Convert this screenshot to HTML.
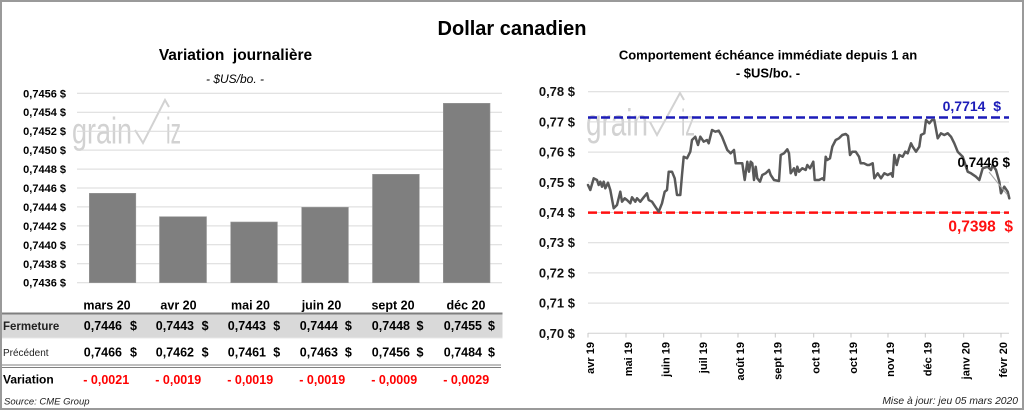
<!DOCTYPE html>
<html><head><meta charset="utf-8"><style>
html,body{margin:0;padding:0;background:#fff;}
svg{display:block;}
text{font-family:"Liberation Sans",sans-serif;}
.b{font-weight:bold;}
</style></head><body>
<svg width="1024" height="410" viewBox="0 0 1024 410" xmlns="http://www.w3.org/2000/svg">
<rect x="0" y="0" width="1024" height="410" fill="#fff"/>
<rect x="1" y="1" width="1022" height="408" fill="none" stroke="#9a9a9a" stroke-width="2"/>

<!-- Main title -->
<text x="512" y="35" font-size="20" class="b" text-anchor="middle" fill="#000">Dollar canadien</text>

<!-- LEFT CHART -->
<text x="235.5" y="60" font-size="15.5" class="b" text-anchor="middle" fill="#000">Variation&#160; journalière</text>
<text x="235" y="83" font-size="12" font-style="italic" text-anchor="middle" fill="#000">- $US/bo. -</text>

<!-- watermark left -->
<g fill="#d2d2d2" stroke="none">
<text x="72" y="143.5" font-size="37" textLength="60" lengthAdjust="spacingAndGlyphs">grain</text>
<text x="166" y="143.5" font-size="37" textLength="15" lengthAdjust="spacingAndGlyphs">iz</text>
</g>
<polyline points="135,130 143,143 165,100 169,107" fill="none" stroke="#d2d2d2" stroke-width="2"/>

<g stroke="#d9d9d9" stroke-width="1">
<line x1="77" y1="93.3" x2="502" y2="93.3"/>
<line x1="77" y1="112.2" x2="502" y2="112.2"/>
<line x1="77" y1="131.2" x2="502" y2="131.2"/>
<line x1="77" y1="150.1" x2="502" y2="150.1"/>
<line x1="77" y1="169.1" x2="502" y2="169.1"/>
<line x1="77" y1="188" x2="502" y2="188"/>
<line x1="77" y1="206.9" x2="502" y2="206.9"/>
<line x1="77" y1="225.9" x2="502" y2="225.9"/>
<line x1="77" y1="244.8" x2="502" y2="244.8"/>
<line x1="77" y1="263.8" x2="502" y2="263.8"/>
<line x1="77" y1="282.7" x2="502" y2="282.7"/>
</g>
<g font-size="11" class="b" text-anchor="end" fill="#000">
<text x="66" y="97.3">0,7456 $</text>
<text x="66" y="116.2">0,7454 $</text>
<text x="66" y="135.2">0,7452 $</text>
<text x="66" y="154.1">0,7450 $</text>
<text x="66" y="173.1">0,7448 $</text>
<text x="66" y="192">0,7446 $</text>
<text x="66" y="210.9">0,7444 $</text>
<text x="66" y="229.9">0,7442 $</text>
<text x="66" y="248.8">0,7440 $</text>
<text x="66" y="267.8">0,7438 $</text>
<text x="66" y="286.7">0,7436 $</text>
</g>
<g fill="#7f7f7f" stroke="#9a9a9a" stroke-width="0.6">
<rect x="89.3" y="193.3" width="46.5" height="89.4"/>
<rect x="159.5" y="216.7" width="47" height="66"/>
<rect x="230.7" y="222" width="46.7" height="60.7"/>
<rect x="301.7" y="207.3" width="46.7" height="75.4"/>
<rect x="372.5" y="174.3" width="46.8" height="108.4"/>
<rect x="443.3" y="103.3" width="46.7" height="179.4"/>
</g>

<!-- Table -->
<g font-size="12.5" class="b" text-anchor="middle" fill="#000">
<text x="107" y="309.5">mars 20</text>
<text x="178.5" y="309.5">avr 20</text>
<text x="250.5" y="309.5">mai 20</text>
<text x="321.5" y="309.5">juin 20</text>
<text x="393" y="309.5">sept 20</text>
<text x="466" y="309.5">déc 20</text>
</g>
<rect x="2" y="313" width="500.5" height="25" fill="#d9d9d9"/>
<line x1="2" y1="313.5" x2="502.5" y2="313.5" stroke="#7f7f7f" stroke-width="2"/>
<line x1="2" y1="338" x2="502.5" y2="338" stroke="#e8e8e8" stroke-width="1"/>
<text x="3" y="330" font-size="11.5" class="b" fill="#222">Fermeture</text>
<text x="3" y="356" font-size="10" fill="#222">Précédent</text>
<text x="3" y="383.5" font-size="12" class="b" fill="#000">Variation</text>
<g font-size="12.5" class="b" fill="#000" text-anchor="end">
<text x="122" y="330">0,7446</text><text x="137" y="330">$</text>
<text x="194" y="330">0,7443</text><text x="208.6" y="330">$</text>
<text x="266" y="330">0,7443</text><text x="280.2" y="330">$</text>
<text x="338" y="330">0,7444</text><text x="351.8" y="330">$</text>
<text x="410" y="330">0,7448</text><text x="423.4" y="330">$</text>
<text x="482" y="330">0,7455</text><text x="495" y="330">$</text>
<text x="122" y="356.5">0,7466</text><text x="137" y="356.5">$</text>
<text x="194" y="356.5">0,7462</text><text x="208.6" y="356.5">$</text>
<text x="266" y="356.5">0,7461</text><text x="280.2" y="356.5">$</text>
<text x="338" y="356.5">0,7463</text><text x="351.8" y="356.5">$</text>
<text x="410" y="356.5">0,7456</text><text x="423.4" y="356.5">$</text>
<text x="482" y="356.5">0,7484</text><text x="495" y="356.5">$</text>
</g>
<line x1="2" y1="365" x2="501" y2="365" stroke="#7f7f7f" stroke-width="1"/>
<line x1="2" y1="367.5" x2="501" y2="367.5" stroke="#7f7f7f" stroke-width="1"/>
<g font-size="12.5" class="b" fill="#ff0000">
<text x="83.3" y="384">- 0,0021</text>
<text x="155.3" y="384">- 0,0019</text>
<text x="227.3" y="384">- 0,0019</text>
<text x="299.3" y="384">- 0,0019</text>
<text x="371.3" y="384">- 0,0009</text>
<text x="443.3" y="384">- 0,0029</text>
</g>
<text x="4" y="404.5" font-size="9.5" font-style="italic" fill="#222">Source: CME Group</text>

<!-- RIGHT CHART -->
<text x="768" y="59.5" font-size="13" class="b" text-anchor="middle" fill="#000">Comportement échéance immédiate depuis 1 an</text>
<text x="768" y="77.5" font-size="13" class="b" text-anchor="middle" fill="#000">- $US/bo. -</text>

<!-- watermark right -->
<g fill="#d2d2d2">
<text x="586" y="135.5" font-size="38" textLength="62" lengthAdjust="spacingAndGlyphs">grain</text>
<text x="681" y="135.5" font-size="37" textLength="14" lengthAdjust="spacingAndGlyphs">iz</text>
</g>
<polyline points="650,122 657,135 680,93 684,100" fill="none" stroke="#d2d2d2" stroke-width="2"/>

<g stroke="#d9d9d9" stroke-width="1">
<line x1="588" y1="91.7" x2="1009" y2="91.7"/>
<line x1="588" y1="121.9" x2="1009" y2="121.9"/>
<line x1="588" y1="152.1" x2="1009" y2="152.1"/>
<line x1="588" y1="182.3" x2="1009" y2="182.3"/>
<line x1="588" y1="212.5" x2="1009" y2="212.5"/>
<line x1="588" y1="242.7" x2="1009" y2="242.7"/>
<line x1="588" y1="272.9" x2="1009" y2="272.9"/>
<line x1="588" y1="303.1" x2="1009" y2="303.1"/>
</g>
<line x1="588" y1="333.3" x2="1009" y2="333.3" stroke="#d0d0d0" stroke-width="1"/>
<g stroke="#c8c8c8" stroke-width="1">
<line x1="588" y1="333" x2="588" y2="337.5"/>
<line x1="626" y1="333" x2="626" y2="337.5"/>
<line x1="663.7" y1="333" x2="663.7" y2="337.5"/>
<line x1="701" y1="333" x2="701" y2="337.5"/>
<line x1="738" y1="333" x2="738" y2="337.5"/>
<line x1="775.3" y1="333" x2="775.3" y2="337.5"/>
<line x1="813.7" y1="333" x2="813.7" y2="337.5"/>
<line x1="851" y1="333" x2="851" y2="337.5"/>
<line x1="888" y1="333" x2="888" y2="337.5"/>
<line x1="925.3" y1="333" x2="925.3" y2="337.5"/>
<line x1="963.7" y1="333" x2="963.7" y2="337.5"/>
<line x1="1001" y1="333" x2="1001" y2="337.5"/>
</g>
<g font-size="13" class="b" text-anchor="end" fill="#111">
<text x="575" y="96.2">0,78 $</text>
<text x="575" y="126.4">0,77 $</text>
<text x="575" y="156.6">0,76 $</text>
<text x="575" y="186.8">0,75 $</text>
<text x="575" y="217">0,74 $</text>
<text x="575" y="247.2">0,73 $</text>
<text x="575" y="277.4">0,72 $</text>
<text x="575" y="307.6">0,71 $</text>
<text x="575" y="337.8">0,70 $</text>
</g>
<g font-size="11" class="b" text-anchor="end" fill="#000">
<text transform="translate(594,342) rotate(-90)">avr 19</text>
<text transform="translate(632,342) rotate(-90)">mai 19</text>
<text transform="translate(669.7,342) rotate(-90)">juin 19</text>
<text transform="translate(707,342) rotate(-90)">juil 19</text>
<text transform="translate(744,342) rotate(-90)">août 19</text>
<text transform="translate(781.3,342) rotate(-90)">sept 19</text>
<text transform="translate(819.7,342) rotate(-90)">oct 19</text>
<text transform="translate(857,342) rotate(-90)">oct 19</text>
<text transform="translate(894,342) rotate(-90)">nov 19</text>
<text transform="translate(931.3,342) rotate(-90)">déc 19</text>
<text transform="translate(969.7,342) rotate(-90)">janv 20</text>
<text transform="translate(1007,342) rotate(-90)">févr 20</text>
</g>

<!-- dashed lines -->
<line x1="588" y1="117.5" x2="1009" y2="117.5" stroke="#1c1cb8" stroke-width="2.5" stroke-dasharray="9,4"/>
<line x1="588" y1="212.6" x2="1009" y2="212.6" stroke="#ff1010" stroke-width="2.5" stroke-dasharray="9,4"/>

<!-- series -->
<polyline fill="none" stroke="#595959" stroke-width="2.5" stroke-linejoin="round" stroke-linecap="round" points="588,185 590.3,190 593.7,178.3 597,180 598.7,185 600.3,181.7 602,186.7 603.7,181.7 605.3,188.3 608,182.7 610.3,190 613.7,208.3 617,205 620.3,191.7 622,201.7 624.7,198.3 627,200 630.3,203.3 632,197.3 635.3,201.7 637,198.3 640.3,201.7 643.7,197.3 647,193.3 648.7,200 652,201.7 655.3,206.7 658.7,211.7 662,203.3 664.7,191.7 667,190 668.7,171.7 672,171.7 674.7,178.3 677,195 680.3,195 682,175 683.7,156.7 687,158.3 690.3,151.7 692,140 695.3,136.7 698,145 700.3,136.7 703.7,141.7 707,140 708.7,143.3 712,130 715.3,131.7 718.7,130.7 722,136.7 727.3,150 730.7,153.3 734,150 735.7,163.3 739,163.3 742.3,163.3 744.7,180 747.3,161.7 749,171.7 750.7,161.7 752.3,163.3 754,180 755.7,166.7 757.3,178.3 760,181.7 762.3,175 765.7,173.3 769,170 770.7,175 774,180 779,181 780.7,155 784,153.3 787.3,149.3 789,153.3 790.7,173.3 794,168.3 795.7,175 797.3,166.7 799,171.7 802.3,168.3 805.7,170 807.3,165 810,168.3 813.3,161.7 814.7,180 819,180 822.3,178.3 824,180 825.7,156.7 827.3,160 830,158.3 832.3,146.7 835.7,140 839,138.3 842.3,135 845.7,134 848,136 850,155 852.3,151.7 855.7,151.7 859,156.7 860.7,163.3 864,163.3 867.3,165 869.3,165 872.7,163.3 874.3,178.3 877.7,173.3 881,178.3 884.3,173.3 887.7,175 891,173.3 892.7,176.7 894.3,155 896.7,165 899.3,155 902.7,156.7 905.3,151.7 907.7,153.3 911,143.3 912.7,146.7 916,151.7 919.3,146.7 921,135 924.3,133.3 926,120 929.3,123.3 932,120 934.3,120 937.7,138.3 941,133.3 944.3,135 947.7,133.3 951,136.7 954.3,143.3 957.7,151.7 962.7,156.7 967.7,171.7 971,173.3 976,176.7 979.3,180 982.7,168.3 987.7,166.7 991,170 992.7,165 996,170 999.3,181.7 1001,193.3 1004.3,186.7 1007.7,191.7 1009.3,198.3"/>

<line x1="989" y1="172" x2="1007.5" y2="195" stroke="#a6a6a6" stroke-width="1"/>

<!-- labels -->
<text x="1001" y="111" font-size="14" class="b" text-anchor="end" fill="#1c1cb8">0,7714&#160; $</text>
<text x="1013" y="231.5" font-size="15.5" class="b" text-anchor="end" fill="#ff1010">0,7398&#160; $</text>
<text x="1010" y="167" font-size="13.5" class="b" text-anchor="end" fill="#000">0,7446 $</text>

<text x="1018" y="404" font-size="10.3" font-style="italic" text-anchor="end" fill="#222">Mise à jour: jeu 05 mars 2020</text>
</svg>
</body></html>
